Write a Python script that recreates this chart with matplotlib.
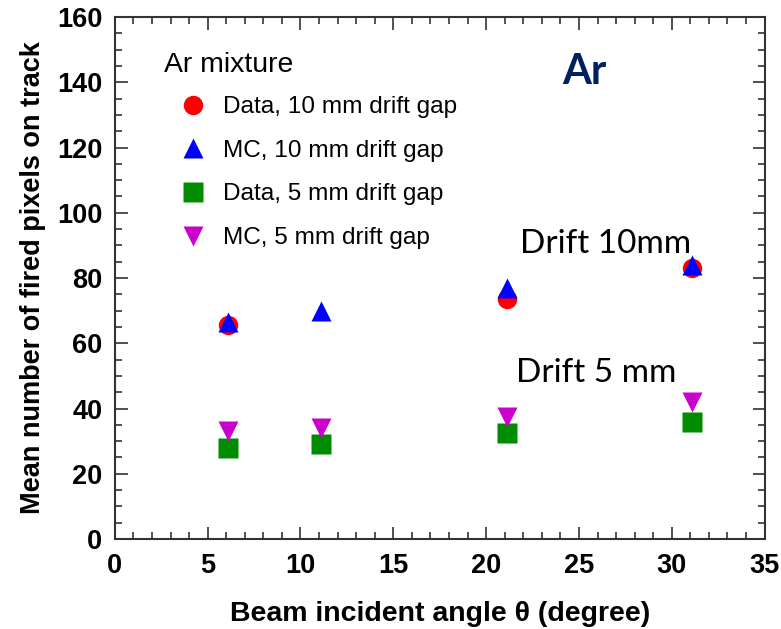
import matplotlib
matplotlib.use("Agg")
from matplotlib import pyplot as plt
from matplotlib.ticker import MultipleLocator

plt.rcParams['font.family'] = ['Liberation Sans', 'DejaVu Sans']

# angles (degree)
angle = [6.1, 11.1, 21.1, 31.1]

# mean number of fired pixels on track
data_10mm_x = [6.1, 21.1, 31.1]
data_10mm = [65.5, 73.5, 83.0]
mc_10mm = [66.5, 70.0, 77.0, 84.0]
data_5mm = [28.0, 29.0, 32.5, 36.0]
mc_5mm = [33.0, 34.0, 37.5, 42.0]

fig = plt.figure(figsize=(7.81, 6.29), dpi=100)
ax = fig.add_axes([0.147, 0.143, 0.832, 0.830])

ax.plot(data_10mm_x, data_10mm, 'o', color='#ff0000', ms=14, mec='none', label='Data, 10 mm drift gap')
ax.plot(angle, mc_10mm, '^', color='#0000ff', ms=15, mec='none', label='MC, 10 mm drift gap')
ax.plot(angle, data_5mm, 's', color='#008c00', ms=14, mec='none', label='Data, 5 mm drift gap')
ax.plot(angle, mc_5mm, 'v', color='#cc00cc', ms=15, mec='none', label='MC, 5 mm drift gap')

ax.set_xlim(0, 35)
ax.set_ylim(0, 160)
ax.xaxis.set_major_locator(MultipleLocator(5))
ax.xaxis.set_minor_locator(MultipleLocator(1))
ax.yaxis.set_major_locator(MultipleLocator(20))
ax.yaxis.set_minor_locator(MultipleLocator(5))
ax.tick_params(which='both', direction='in', top=True, right=True, width=1.2, colors='#333333',
               labelcolor='black')
ax.tick_params(which='major', length=9, labelsize=19.5)
ax.tick_params(axis='x', which='major', pad=10)
ax.tick_params(axis='y', which='major', pad=9)
ax.tick_params(which='minor', length=5)
for lab in ax.get_xticklabels() + ax.get_yticklabels():
    lab.set_fontweight('bold')
for s in ax.spines.values():
    s.set_linewidth(1.5)
    s.set_color('#333333')

ax.set_xlabel('Beam incident angle θ (degree)', fontsize=20.5, fontweight='bold', labelpad=16)
ax.set_ylabel('Mean number of fired pixels on track', fontsize=19.5, fontweight='bold', labelpad=8)

leg = ax.legend(loc='upper left', bbox_to_anchor=(0.042, 0.975), frameon=False, title='Ar mixture',
                fontsize=17.6, title_fontsize=20.4, alignment='left', handletextpad=0.0,
                labelspacing=0.88, handlelength=2.4)
leg._legend_box.sep = 13

ax.text(0.722, 0.895, 'Ar', transform=ax.transAxes, fontsize=30, fontweight='bold',
        color='#002060', family='Lato', ha='center', va='center')
ax.text(0.623, 0.548, 'Drift 10mm', transform=ax.transAxes, fontsize=24, family='Lato')
ax.text(0.618, 0.301, 'Drift 5 mm', transform=ax.transAxes, fontsize=24, family='Lato')

fig.savefig('out.png', dpi=100)
